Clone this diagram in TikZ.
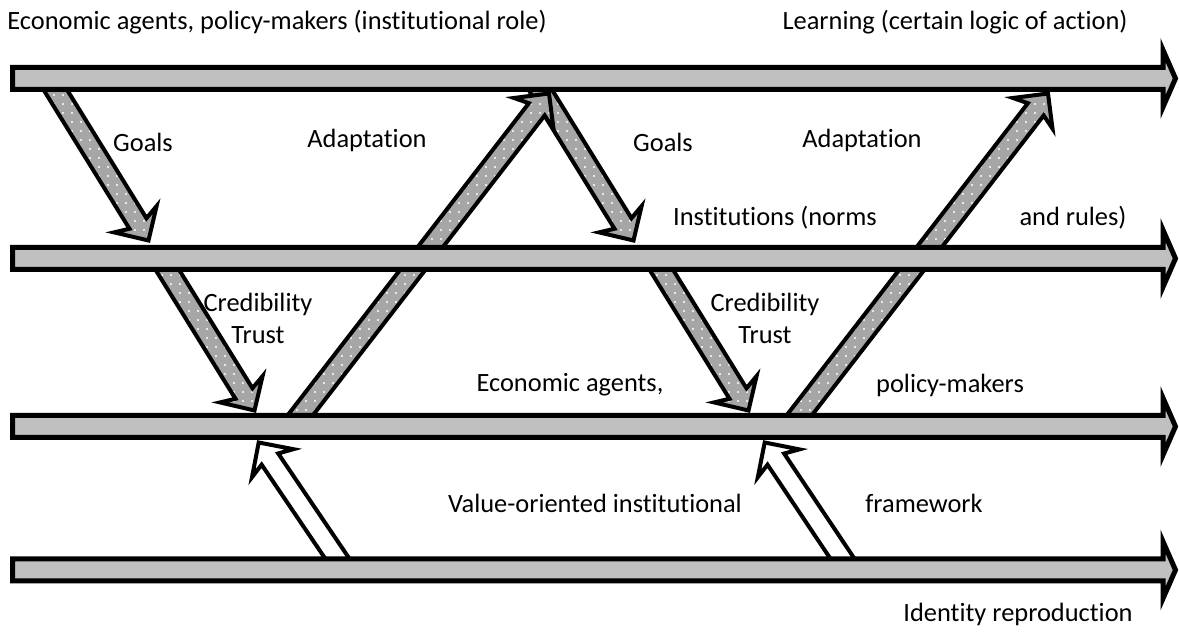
\documentclass[tikz,border=0pt]{standalone}
\usepackage{fontspec}
\setmainfont{Carlito}[Ligatures=NoCommon]
\usetikzlibrary{calc,patterns.meta}

\definecolor{bargray}{RGB}{192,192,192}
\definecolor{dotgray}{RGB}{166,166,166}

\tikzset{
  lbl/.style={font=\fontsize{13.2}{16}\selectfont, inner sep=0pt},
  bararrow/.style={draw=black, line width=2.5pt, fill=bargray},
  dotarrow/.style={draw=black, line width=2pt, preaction={fill=dotgray},
    pattern={Dots[distance=4.5pt,radius=0.55pt]}, pattern color=white},
  openarrow/.style={draw=black, line width=2pt, fill=white},
}

% block arrow from #2 to #3, sizes in \SHAFTW, \HEADLEN, \BARBLEN, \HEADW
\newcommand\fatarrow[3][]{%
  \coordinate (fa-h) at ($(#3)!\HEADLEN!(#2)$);
  \coordinate (fa-b) at ($(#3)!\BARBLEN!(#2)$);
  \draw[#1] ($(#2)!\SHAFTW!90:(#3)$) -- ($(fa-h)!\SHAFTW!90:(#3)$)
    -- ($(fa-b)!\HEADW!90:(#3)$) -- (#3) -- ($(fa-b)!\HEADW!-90:(#3)$)
    -- ($(fa-h)!\SHAFTW!-90:(#3)$) -- ($(#2)!\SHAFTW!-90:(#3)$) -- cycle;}

\begin{document}
\begin{tikzpicture}[x=0.5pt,y=-0.5pt]
\useasboundingbox (0,0) rectangle (1179,635);

% levels
\coordinate (bar1s) at (12.5,78.5);  \coordinate (bar1e) at (1175.5,78.5);
\coordinate (bar2s) at (12.5,258.5); \coordinate (bar2e) at (1175.5,258.5);
\coordinate (bar3s) at (12.5,426.5); \coordinate (bar3e) at (1175.5,426.5);
\coordinate (bar4s) at (12.5,570);   \coordinate (bar4e) at (1175.5,570);

% links between the levels
\coordinate (goalsA)  at (48,78);    \coordinate (goalsA')  at (148.5,240.5);
\coordinate (credA)   at (160,258);  \coordinate (credA')   at (254.5,410.5);
\coordinate (adaptA)  at (292,426);  \coordinate (adaptA')  at (549,93.5);
\coordinate (goalsB)  at (533,78);   \coordinate (goalsB')  at (633.5,240.5);
\coordinate (credB)   at (654,258);  \coordinate (credB')   at (748.5,410.5);
\coordinate (adaptB)  at (791,426);  \coordinate (adaptB')  at (1048,93.5);
\coordinate (valueA)  at (345,570);  \coordinate (valueA')  at (258.7,442.5);
\coordinate (valueB)  at (850,570);  \coordinate (valueB')  at (764.7,442.5);

\def\SHAFTW{5pt}\def\HEADLEN{10pt}\def\BARBLEN{12.5pt}\def\HEADW{12.5pt}
\fatarrow[dotarrow]{goalsB}{goalsB'}
\fatarrow[dotarrow]{goalsA}{goalsA'}
\fatarrow[dotarrow]{credA}{credA'}
\fatarrow[dotarrow]{adaptA}{adaptA'}
\fatarrow[dotarrow]{credB}{credB'}
\fatarrow[dotarrow]{adaptB}{adaptB'}
\fatarrow[openarrow]{valueA}{valueA'}
\fatarrow[openarrow]{valueB}{valueB'}

\def\SHAFTW{5.5pt}\def\HEADLEN{6.25pt}\def\BARBLEN{6.25pt}\def\HEADW{14.25pt}
\fatarrow[bararrow]{bar1s}{bar1e}
\fatarrow[bararrow]{bar2s}{bar2e}
\fatarrow[bararrow]{bar3s}{bar3e}
\fatarrow[bararrow]{bar4s}{bar4e}

% labels
\node[lbl] (actors) at (277,22) {Economic agents, policy-makers (institutional role)};
\node[lbl] (learning) at (955,22) {Learning (certain logic of action)};
\node[lbl] (goals1) at (143,142) {Goals};
\node[lbl] (adapt1) at (367,140) {Adaptation};
\node[lbl] (goals2) at (663,142) {Goals};
\node[lbl] (adapt2) at (862,140) {Adaptation};
\node[lbl] (inst1) at (775,218) {Institutions (norms};
\node[lbl] (inst2) at (1073,218) {and rules)};
\node[lbl, align=center] (cred1) at (258,318) {Credibility\\Trust};
\node[lbl, align=center] (cred2) at (765,318) {Credibility\\Trust};
\node[lbl] (agents1) at (570,385) {Economic agents,};
\node[lbl] (agents2) at (950,385) {policy-makers};
\node[lbl] (value1) at (595,503) {Value-oriented institutional};
\node[lbl] (value2) at (924,503) {framework};
\node[lbl] (identity) at (1018,614) {Identity reproduction};

\end{tikzpicture}
\end{document}
